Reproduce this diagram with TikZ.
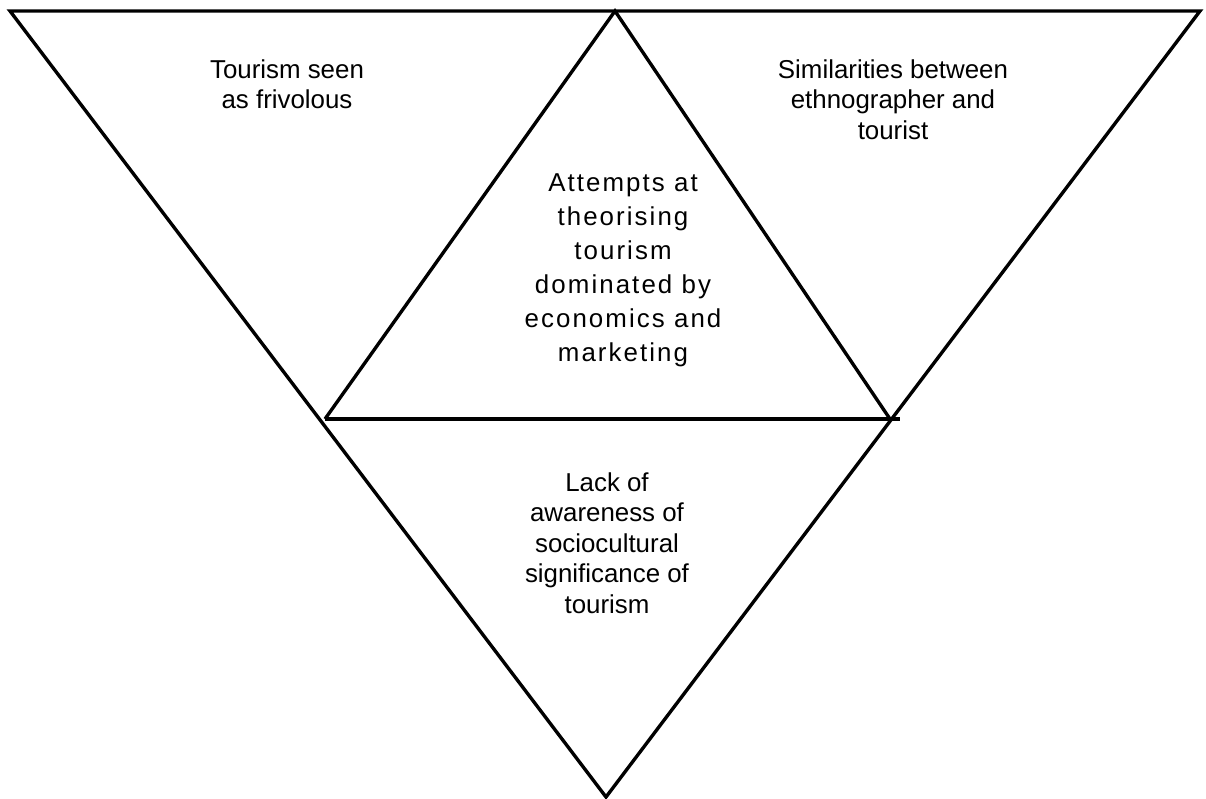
\documentclass[tikz,border=0pt]{standalone}
\usepackage{fontspec}
\setmainfont{Liberation Sans}
\newfontfamily\spacedfont[LetterSpace=8]{Liberation Sans}
\usetikzlibrary{calc}

\begin{document}
\begin{tikzpicture}[x=0.025cm,y=-0.025cm]
\def \lw{2.4pt}
\tikzset{
  label text/.style={anchor=north, inner sep=0pt, align=center,
    font=\fontsize{18.4}{21.7}\selectfont},
  middle text/.style={label text,
    font=\spacedfont\fontsize{18.4}{24.2}\selectfont}
}
\useasboundingbox (0,0) rectangle (1206,798);

% big triangle
\coordinate (TL) at (10,11);
\coordinate (TR) at (1200,11);
\coordinate (B) at (606,797);
% inner triangle
\coordinate (T) at (615,11);
\coordinate (L) at (325,419);
\coordinate (R) at (890,419);

\draw[line width=\lw, line join=miter] (TL) -- (TR) -- (B) -- cycle;
\draw[line width=\lw, line join=miter] (L) -- (T) -- (R);
\draw[line width=\lw] (L) -- ($(R)+(10,0)$);

\node[label text] (frivolous) at (287,59) {Tourism seen\\as frivolous};
\node[label text] (similar) at (893,59) {Similarities between\\ethnographer and\\tourist};
\node[middle text] (theory) at (623,173) {Attempts at\\theorising\\tourism\\dominated by\\economics and\\marketing};
\node[label text] (lack) at (607,472) {Lack of\\awareness of\\sociocultural\\significance of\\tourism};

\end{tikzpicture}
\end{document}
